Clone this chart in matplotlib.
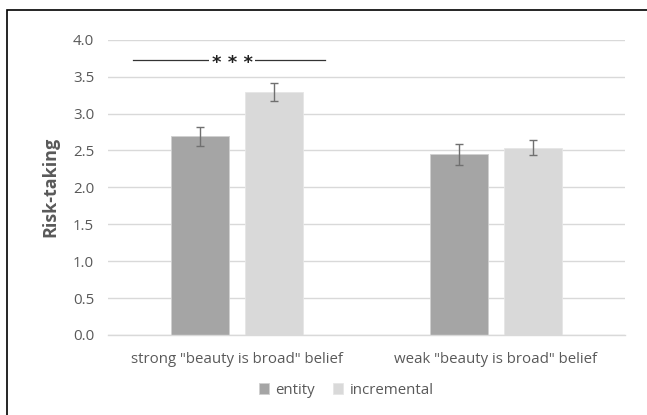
import matplotlib.pyplot as plt
from matplotlib.patches import Rectangle
import numpy as np

# data
groups = ['strong "beauty is broad" belief', 'weak "beauty is broad" belief']
entity = [2.69, 2.45]
entity_err = [0.13, 0.14]
incremental = [3.29, 2.54]
incremental_err = [0.12, 0.10]
yticks = [0.0, 0.5, 1.0, 1.5, 2.0, 2.5, 3.0, 3.5, 4.0]

plt.rcParams['font.family'] = ['Open Sans', 'DejaVu Sans']
txt = '#595959'

fig = plt.figure(figsize=(6.47, 4.15), dpi=100)
ax = fig.add_axes([0.167, 0.193, 0.799, 0.711])

x = np.arange(len(groups))
w = 0.225
off = 0.143
ax.bar(x - off, entity, w, color='#a5a5a5', edgecolor='#d0d0d0', linewidth=0.6,
       label='entity', zorder=2)
ax.bar(x + off, incremental, w, color='#d9d9d9', edgecolor='#e6e6e6', linewidth=0.6,
       label='incremental', zorder=2)
ax.errorbar(x - off, entity, yerr=entity_err, fmt='none', ecolor='#707070',
            elinewidth=1, capsize=3, capthick=1, zorder=3)
ax.errorbar(x + off, incremental, yerr=incremental_err, fmt='none', ecolor='#707070',
            elinewidth=1, capsize=3, capthick=1, zorder=3)

# significance bracket
ax.plot([-0.402, 0.340], [3.72, 3.72], color='#333333', lw=0.9, zorder=3)
ax.text(-0.02, 3.69, '* * *', ha='center', va='center', fontsize=13, color='#222222',
        fontweight='bold', family='DejaVu Sans',
        bbox=dict(facecolor='white', edgecolor='none', pad=1.5), zorder=4)

ax.set_xlim(-0.5, 1.5)
ax.set_ylim(0, 4)
ax.set_yticks(yticks)
ax.set_yticklabels([f'{v:.1f}' for v in yticks])
ax.set_xticks(x)
ax.set_xticklabels(groups)
ax.tick_params(axis='both', length=0, colors=txt, labelsize=10.8)
ax.tick_params(axis='x', pad=12)
ax.tick_params(axis='y', pad=10)
ax.grid(axis='y', color='#d9d9d9', lw=1, zorder=0)
ax.set_axisbelow(True)
for s in ['top', 'right', 'left']:
    ax.spines[s].set_visible(False)
ax.spines['bottom'].set_color('#d9d9d9')
ax.spines['bottom'].set_linewidth(1)
ax.set_ylabel('Risk-taking', fontsize=13, fontweight='bold', color=txt, labelpad=10)

leg = fig.legend(loc='center', bbox_to_anchor=(0.535, 0.06), ncol=2, frameon=False,
                 fontsize=10.8, handlelength=0.7, handleheight=0.7, handletextpad=0.4,
                 columnspacing=1.2)
for t in leg.get_texts():
    t.set_color(txt)

# outer frame (only top and left edges visible in the crop)
fig.patches.append(Rectangle((0.011, -0.1), 1.2, 1.076, transform=fig.transFigure,
                             fill=False, edgecolor='black', lw=1.2))

fig.savefig('out.png', dpi=100)
